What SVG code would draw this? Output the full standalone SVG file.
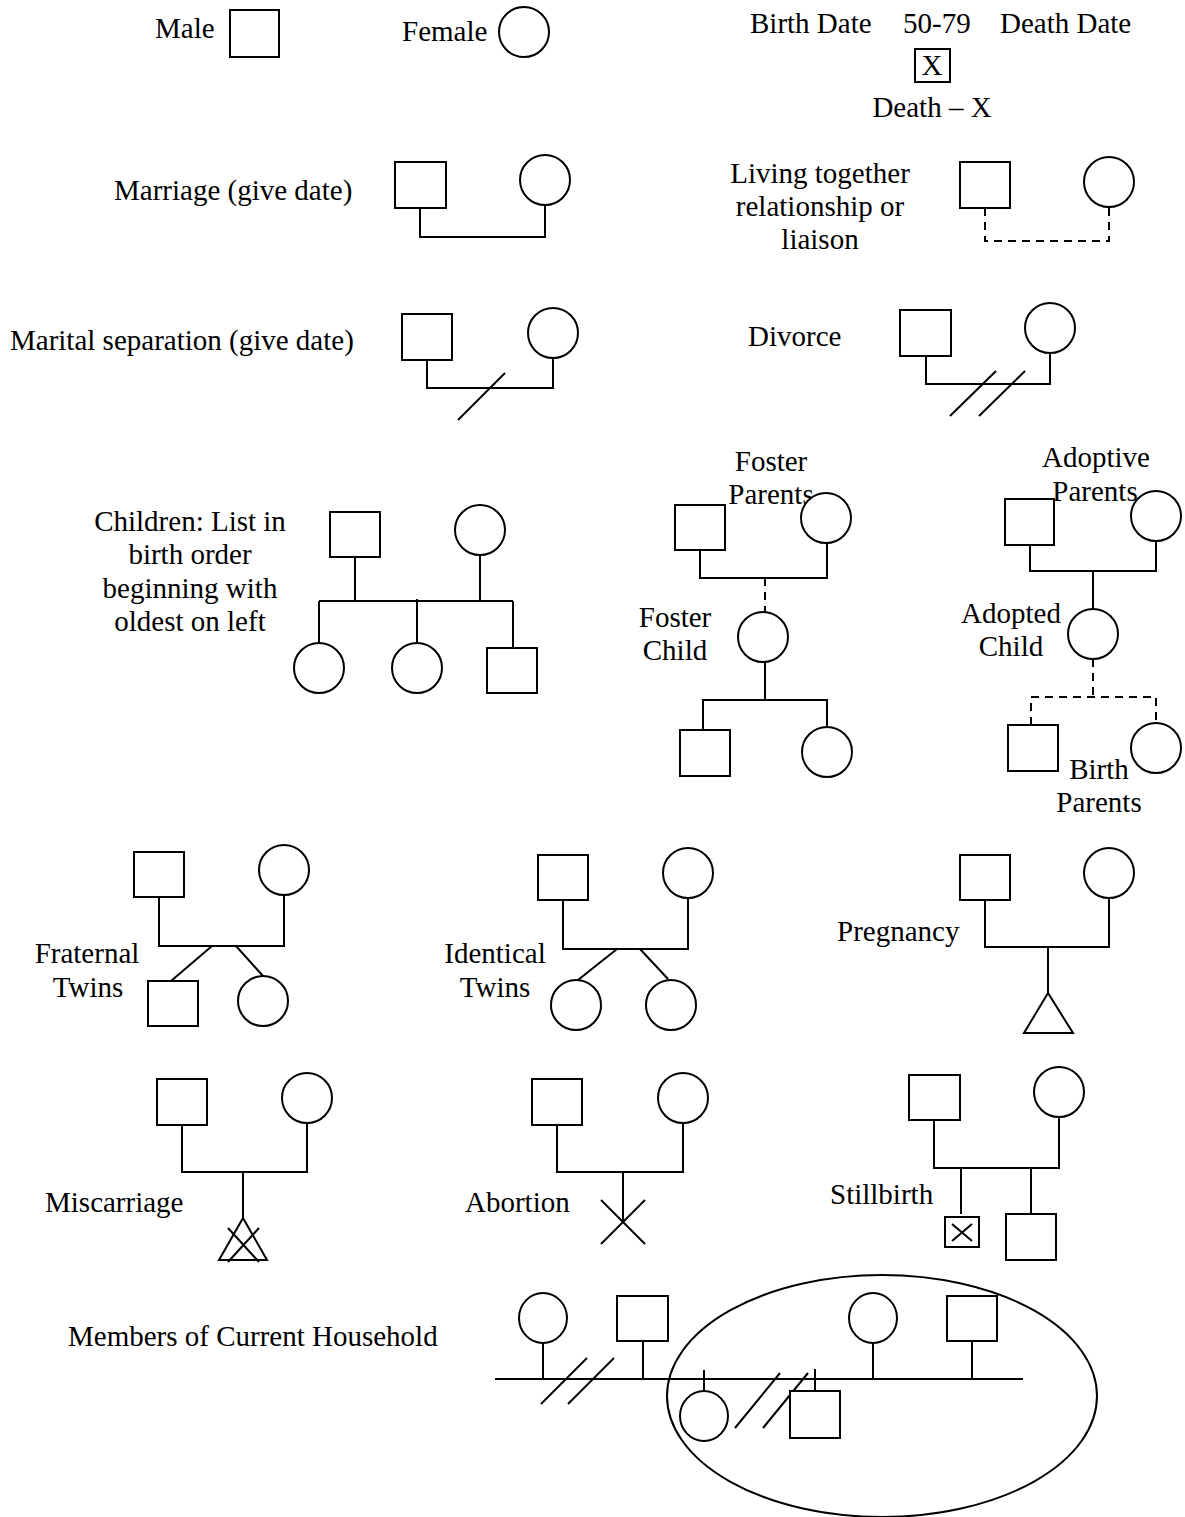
<svg xmlns="http://www.w3.org/2000/svg" width="1185" height="1517" viewBox="0 0 1185 1517">
<style>
text{font-family:"Liberation Serif","Times New Roman",serif;font-size:29px;fill:#000}
.c{text-anchor:middle}
.s{fill:#fff;stroke:#000;stroke-width:2}
.l{fill:none;stroke:#000;stroke-width:2}
.d{fill:none;stroke:#000;stroke-width:2;stroke-dasharray:8,6}
</style>
<rect width="1185" height="1517" fill="#fff"/>
<g id="labels">
<text x="155" y="38">Male</text>
<text x="402" y="41">Female</text>
<text x="750" y="33">Birth Date</text>
<text x="903" y="33">50-79</text>
<text x="1000" y="33">Death Date</text>
<text x="932" y="117" class="c">Death – X</text>
<text x="114" y="200">Marriage (give date)</text>
<text x="820" y="183" class="c">Living together</text>
<text x="820" y="216" class="c">relationship or</text>
<text x="820" y="249" class="c">liaison</text>
<text x="10" y="350">Marital separation (give date)</text>
<text x="748" y="346">Divorce</text>
<text x="190" y="531" class="c">Children: List in</text>
<text x="190" y="564" class="c">birth order</text>
<text x="190" y="598" class="c">beginning with</text>
<text x="190" y="631" class="c">oldest on left</text>
<text x="771" y="471" class="c">Foster</text>
<text x="771" y="504" class="c">Parents</text>
<text x="675" y="627" class="c">Foster</text>
<text x="675" y="660" class="c">Child</text>
<text x="1096" y="467" class="c">Adoptive</text>
<text x="1095" y="501" class="c">Parents</text>
<text x="1011" y="623" class="c">Adopted</text>
<text x="1011" y="656" class="c">Child</text>
<text x="1099" y="779" class="c">Birth</text>
<text x="1099" y="812" class="c">Parents</text>
<text x="87" y="963" class="c">Fraternal</text>
<text x="88" y="997" class="c">Twins</text>
<text x="495" y="963" class="c">Identical</text>
<text x="495" y="997" class="c">Twins</text>
<text x="837" y="941">Pregnancy</text>
<text x="45" y="1212">Miscarriage</text>
<text x="465" y="1212">Abortion</text>
<text x="830" y="1204">Stillbirth</text>
<text x="68" y="1346">Members of Current Household</text>
</g>
<g id="connectors">
<!-- marriage -->
<polyline class="l" points="420,208 420,237 545,237 545,205"/>
<!-- living together -->
<polyline class="d" points="985,208 985,241 1109,241 1109,207"/>
<!-- separation -->
<polyline class="l" points="427,360 427,388 553,388 553,358"/>
<line class="l" x1="458" y1="420" x2="505" y2="373"/>
<!-- divorce -->
<polyline class="l" points="926,356 926,384 1050,384 1050,353"/>
<line class="l" x1="950" y1="416" x2="996" y2="371"/>
<line class="l" x1="979" y1="416" x2="1025" y2="371"/>
<!-- children -->
<line class="l" x1="355" y1="557" x2="355" y2="601"/>
<line class="l" x1="480" y1="555" x2="480" y2="601"/>
<line class="l" x1="319" y1="601" x2="513" y2="601"/>
<line class="l" x1="319" y1="601" x2="319" y2="643"/>
<line class="l" x1="417" y1="599" x2="417" y2="643"/>
<line class="l" x1="513" y1="601" x2="513" y2="648"/>
<!-- foster -->
<polyline class="l" points="700,550 700,578 827,578 827,543"/>
<line class="d" x1="765" y1="578" x2="765" y2="613" stroke-dasharray="7,5"/>
<line class="l" x1="765" y1="662" x2="765" y2="700"/>
<polyline class="l" points="703,730 703,700 827,700 827,727"/>
<!-- adoptive -->
<polyline class="l" points="1030,545 1030,571 1156,571 1156,542"/>
<line class="l" x1="1093" y1="571" x2="1093" y2="609"/>
<line class="d" x1="1093" y1="659" x2="1093" y2="697" stroke-dasharray="7,5"/>
<polyline class="d" points="1031,725 1031,697 1156,697 1156,721" stroke-dasharray="7,5"/>
<!-- fraternal twins -->
<polyline class="l" points="159,897 159,946 284,946 284,895"/>
<line class="l" x1="212" y1="946" x2="171" y2="981"/>
<line class="l" x1="236" y1="946" x2="263" y2="976"/>
<!-- identical twins -->
<polyline class="l" points="563,900 563,949 688,949 688,898"/>
<line class="l" x1="617" y1="949" x2="578" y2="980"/>
<line class="l" x1="640" y1="949" x2="668" y2="979"/>
<!-- pregnancy -->
<polyline class="l" points="985,900 985,947 1109,947 1109,898"/>
<line class="l" x1="1048" y1="947" x2="1048" y2="993"/>
<!-- miscarriage -->
<polyline class="l" points="182,1125 182,1172 307,1172 307,1123"/>
<line class="l" x1="243" y1="1172" x2="243" y2="1218"/>
<!-- abortion -->
<polyline class="l" points="557,1125 557,1172 683,1172 683,1123"/>
<line class="l" x1="623" y1="1172" x2="623" y2="1222"/>
<!-- stillbirth -->
<polyline class="l" points="934,1120 934,1168 1059,1168 1059,1118"/>
<line class="l" x1="961" y1="1168" x2="961" y2="1214"/>
<line class="l" x1="1031" y1="1168" x2="1031" y2="1214"/>
<!-- household -->
<line class="l" x1="495" y1="1379" x2="1023" y2="1379"/>
<line class="l" x1="543" y1="1342" x2="543" y2="1379"/>
<line class="l" x1="643" y1="1341" x2="643" y2="1379"/>
<line class="l" x1="541" y1="1404" x2="587" y2="1358"/>
<line class="l" x1="568" y1="1404" x2="614" y2="1358"/>
<line class="l" x1="704" y1="1370" x2="704" y2="1392"/>
<line class="l" x1="735" y1="1428" x2="780" y2="1373"/>
<line class="l" x1="763" y1="1428" x2="808" y2="1373"/>
<line class="l" x1="815" y1="1369" x2="815" y2="1391"/>
<line class="l" x1="873" y1="1343" x2="873" y2="1379"/>
<line class="l" x1="972" y1="1341" x2="972" y2="1379"/>
</g>
<g id="male"><rect class="s" x="230" y="10" width="49" height="47"/></g>
<g id="female"><circle class="s" cx="524" cy="32" r="25"/></g>
<g id="death"><rect class="s" x="915" y="49" width="35" height="33"/><text x="932" y="75" class="c">X</text></g>
<g id="marriage-m"><rect class="s" x="395" y="162" width="51" height="46"/></g>
<g id="marriage-f"><circle class="s" cx="545" cy="180" r="25"/></g>
<g id="living-m"><rect class="s" x="960" y="162" width="50" height="46"/></g>
<g id="living-f"><circle class="s" cx="1109" cy="182" r="25"/></g>
<g id="separation-m"><rect class="s" x="402" y="314" width="50" height="46"/></g>
<g id="separation-f"><circle class="s" cx="553" cy="333" r="25"/></g>
<g id="divorce-m"><rect class="s" x="900" y="310" width="51" height="46"/></g>
<g id="divorce-f"><circle class="s" cx="1050" cy="328" r="25"/></g>
<g id="children-m"><rect class="s" x="330" y="512" width="50" height="45"/></g>
<g id="children-f"><circle class="s" cx="480" cy="530" r="25"/></g>
<g id="child1"><circle class="s" cx="319" cy="668" r="25"/></g>
<g id="child2"><circle class="s" cx="417" cy="668" r="25"/></g>
<g id="child3"><rect class="s" x="487" y="648" width="50" height="45"/></g>
<g id="foster-m"><rect class="s" x="675" y="505" width="50" height="45"/></g>
<g id="foster-f"><circle class="s" cx="826" cy="518" r="25"/></g>
<g id="foster-child"><circle class="s" cx="763" cy="637" r="25"/></g>
<g id="foster-gc1"><rect class="s" x="680" y="730" width="50" height="46"/></g>
<g id="foster-gc2"><circle class="s" cx="827" cy="752" r="25"/></g>
<g id="adoptive-m"><rect class="s" x="1005" y="499" width="49" height="46"/></g>
<g id="adoptive-f"><circle class="s" cx="1156" cy="516" r="25"/></g>
<g id="adopted-child"><circle class="s" cx="1093" cy="634" r="25"/></g>
<g id="birth-m"><rect class="s" x="1008" y="725" width="50" height="46"/></g>
<g id="birth-f"><circle class="s" cx="1156" cy="748" r="25"/></g>
<g id="fraternal-m"><rect class="s" x="134" y="852" width="50" height="45"/></g>
<g id="fraternal-f"><circle class="s" cx="284" cy="870" r="25"/></g>
<g id="fraternal-t1"><rect class="s" x="148" y="981" width="50" height="45"/></g>
<g id="fraternal-t2"><circle class="s" cx="263" cy="1001" r="25"/></g>
<g id="identical-m"><rect class="s" x="538" y="855" width="50" height="45"/></g>
<g id="identical-f"><circle class="s" cx="688" cy="873" r="25"/></g>
<g id="identical-t1"><circle class="s" cx="576" cy="1005" r="25"/></g>
<g id="identical-t2"><circle class="s" cx="671" cy="1005" r="25"/></g>
<g id="pregnancy-m"><rect class="s" x="960" y="855" width="50" height="45"/></g>
<g id="pregnancy-f"><circle class="s" cx="1109" cy="873" r="25"/></g>
<g id="pregnancy"><polygon class="s" points="1048,993 1024,1033 1073,1033"/></g>
<g id="miscarriage-m"><rect class="s" x="157" y="1079" width="50" height="46"/></g>
<g id="miscarriage-f"><circle class="s" cx="307" cy="1098" r="25"/></g>
<g id="miscarriage"><polygon class="s" points="243,1218 219,1260 267,1260"/><line class="l" x1="228" y1="1262" x2="259" y2="1228"/><line class="l" x1="228" y1="1228" x2="259" y2="1262"/></g>
<g id="abortion-m"><rect class="s" x="532" y="1079" width="50" height="46"/></g>
<g id="abortion-f"><circle class="s" cx="683" cy="1098" r="25"/></g>
<g id="abortion"><line class="l" x1="601" y1="1200" x2="645" y2="1244"/><line class="l" x1="601" y1="1244" x2="645" y2="1200"/></g>
<g id="stillbirth-m"><rect class="s" x="909" y="1075" width="51" height="45"/></g>
<g id="stillbirth-f"><circle class="s" cx="1059" cy="1092" r="25"/></g>
<g id="stillbirth"><rect class="s" x="945" y="1217" width="34" height="30"/><line class="l" x1="952" y1="1224" x2="972" y2="1241"/><line class="l" x1="952" y1="1241" x2="972" y2="1224"/></g>
<g id="stillbirth-sib"><rect class="s" x="1006" y="1214" width="50" height="46"/></g>
<g id="household-ellipse"><ellipse class="l" cx="882" cy="1396" rx="215" ry="121"/></g>
<g id="hh-f1"><ellipse class="s" cx="543" cy="1318" rx="24" ry="25"/></g>
<g id="hh-m1"><rect class="s" x="617" y="1296" width="51" height="45"/></g>
<g id="hh-f2"><ellipse class="s" cx="704" cy="1416" rx="24" ry="25"/></g>
<g id="hh-m2"><rect class="s" x="790" y="1391" width="50" height="47"/></g>
<g id="hh-f3"><ellipse class="s" cx="873" cy="1318" rx="24" ry="25"/></g>
<g id="hh-m3"><rect class="s" x="947" y="1296" width="50" height="45"/></g>
</svg>
